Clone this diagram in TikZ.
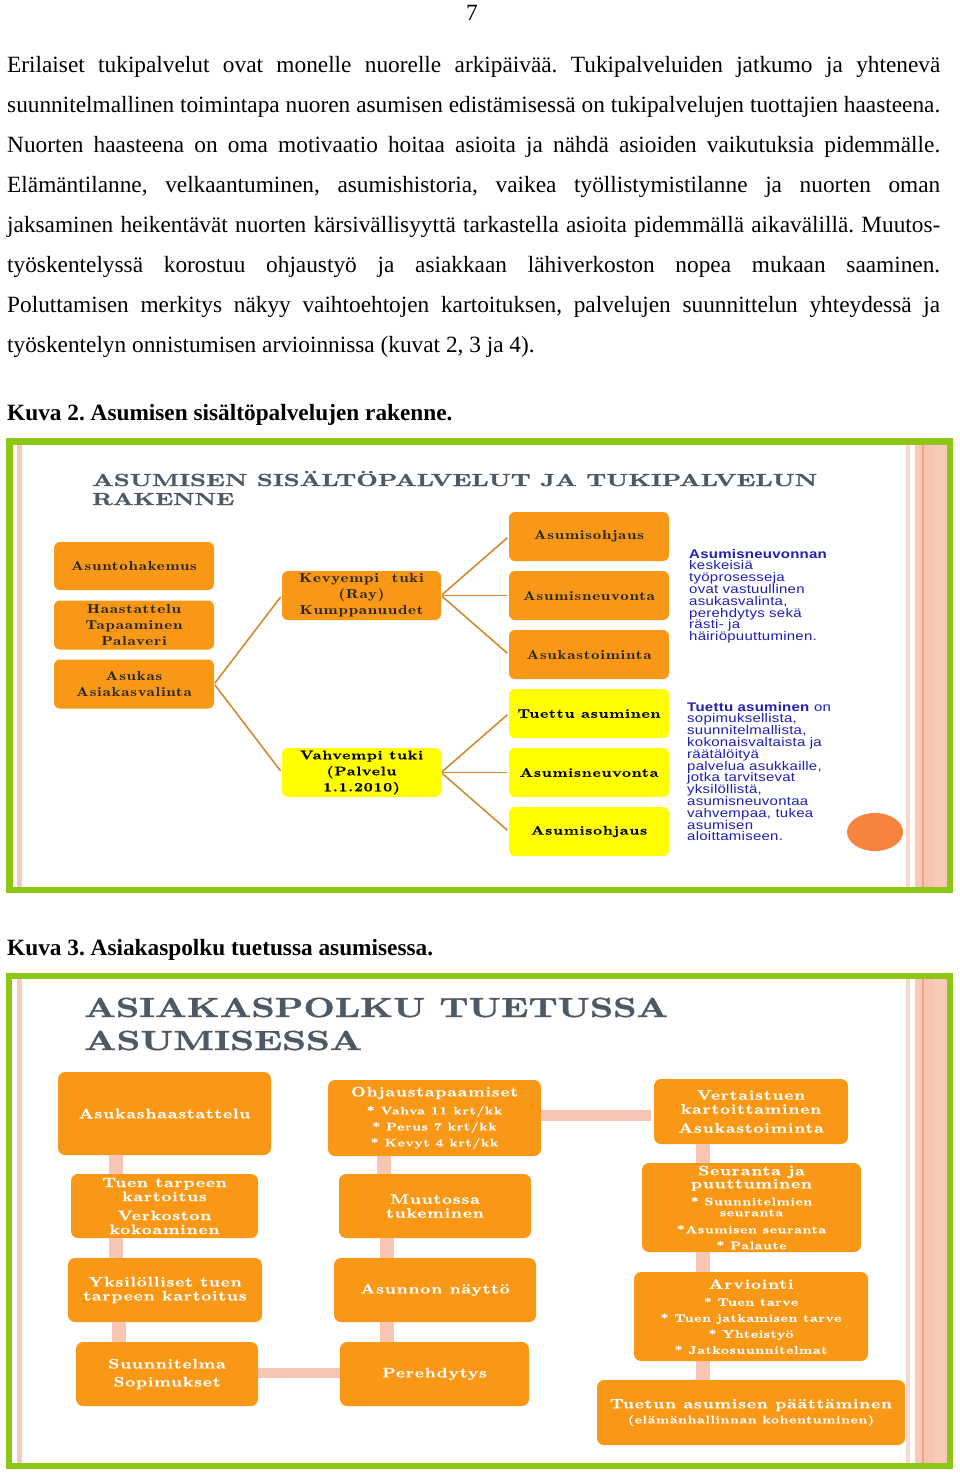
\documentclass[tikz,border=0pt]{standalone}
\usepackage{graphicx}
\usepackage{fontspec}
\setmainfont{Liberation Serif}
\frenchspacing
\newfontfamily\boxfont{lmromandemi10-regular.otf}[FakeStretch=1.3,LetterSpace=6]
\newfontfamily\boxbold{lmroman10-bold.otf}[FakeStretch=1.25,LetterSpace=6,FakeBold=0.4]
\newfontfamily\titlefont{lmroman10-bold.otf}[FakeBold=1]
\newfontfamily\bluefont{Liberation Sans}[FakeStretch=1.2,LetterSpace=2]
\newcommand\subsz{\fontsize{11}{14}\selectfont}
\definecolor{cframe}{RGB}{142,198,20}
\definecolor{cpink}{RGB}{248,202,186}
\definecolor{cpinklt}{RGB}{250,218,206}
\definecolor{cpinkdk}{RGB}{240,162,130}
\definecolor{corange}{RGB}{248,152,22}
\definecolor{cyellow}{RGB}{255,255,0}
\definecolor{cconn}{RGB}{212,138,48}
\definecolor{cpinkbar}{RGB}{247,198,178}
\definecolor{ctitle}{RGB}{80,88,100}
\definecolor{cblue}{RGB}{30,30,185}
\definecolor{ccirc}{RGB}{246,132,62}
\tikzset{
  bodyline/.style={anchor=base west, inner sep=0, font=\fontsize{23.3}{28}\selectfont},
  titletext/.style={anchor=base west, inner sep=0, text=ctitle},
  obox/.style={fill=corange, rounded corners=6pt, inner sep=0, minimum width=160pt, minimum height=49pt, align=center, text=black!85, font=\boxfont\fontsize{13}{16}\selectfont},
  ylbox/.style={obox, fill=cyellow, text=black, font=\boxbold\fontsize{12.5}{16}\selectfont},
  connline/.style={draw=cconn, line width=1.6pt, shorten >=2pt, shorten <=1pt},
  bluetxt/.style={anchor=base west, inner sep=0, text=cblue, font=\bluefont\fontsize{12.5}{12}\selectfont},
  wbox/.style={fill=corange, rounded corners=7pt, inner sep=0, align=center, text=white, font=\boxbold\fontsize{13.8}{14}\selectfont},
  vbar/.style={draw=cpinkbar, line width=14pt},
  hbar/.style={draw=cpinkbar, line width=10.5pt}
}
\begin{document}
\begin{tikzpicture}[x=1pt,y=-1pt]
\useasboundingbox (0,0) rectangle (960,1476);
\fill[white] (0,0) rectangle (960,1476);

% page number and body text
\node[anchor=base, inner sep=0, font=\fontsize{23.3}{28}\selectfont] (pg) at (472,20) {7};
\node[bodyline] (t1) at (7,72) {\hbox to 933pt{Erilaiset tukipalvelut ovat monelle nuorelle arkipäivää. Tukipalveluiden jatkumo ja yhtenevä}};
\node[bodyline] (t2) at (7,112) {\hbox to 933pt{suunnitelmallinen toimintapa nuoren asumisen edistämisessä on tukipalvelujen tuottajien haasteena.}};
\node[bodyline] (t3) at (7,152) {\hbox to 933pt{Nuorten haasteena on oma motivaatio hoitaa asioita ja nähdä asioiden vaikutuksia pidemmälle.}};
\node[bodyline] (t4) at (7,192) {\hbox to 933pt{Elämäntilanne, velkaantuminen, asumishistoria, vaikea työllistymistilanne ja nuorten oman}};
\node[bodyline] (t5) at (7,232) {\hbox to 933pt{jaksaminen heikentävät nuorten kärsivällisyyttä tarkastella asioita pidemmällä aikavälillä. Muutos-}};
\node[bodyline] (t6) at (7,272) {\hbox to 933pt{työskentelyssä korostuu ohjaustyö ja asiakkaan lähiverkoston nopea mukaan saaminen.}};
\node[bodyline] (t7) at (7,312) {\hbox to 933pt{Poluttamisen merkitys näkyy vaihtoehtojen kartoituksen, palvelujen suunnittelun yhteydessä ja}};
\node[bodyline] (t8) at (7,352) {työskentelyn onnistumisen arvioinnissa (kuvat 2, 3 ja 4).};

\node[bodyline, font=\fontsize{23.3}{28}\selectfont\bfseries] (cap2) at (7,420) {Kuva 2. Asumisen sisältöpalvelujen rakenne.};
\node[bodyline, font=\fontsize{23.3}{28}\selectfont\bfseries] (cap3) at (7,955) {Kuva 3. Asiakaspolku tuetussa asumisessa.};

% ===== Diagram 1 =====
\fill[cpink] (17,445) rectangle (22,887);
\fill[cpinklt] (906,445) rectangle (910,887);
\fill[cpink] (915,445) rectangle (947,887);
\fill[cpink!85!cpinkdk] (925,445) rectangle (934,887);
\draw[cpinkdk, line width=1.2pt] (923,445) -- (923,887);
\draw[cframe, line width=6.5pt] (9.5,441.5) rectangle (950,890);

\node[titletext, font=\titlefont\fontsize{17.5}{19}\selectfont] (ti1a) at (92,486) {\resizebox{725pt}{\height}{ASUMISEN SISÄLTÖPALVELUT JA TUKIPALVELUN}};
\node[titletext, font=\titlefont\fontsize{17.5}{19}\selectfont] (ti1b) at (92,505) {\resizebox{142pt}{\height}{RAKENNE}};

\node[obox, minimum height=48pt] (asunto) at (134,566) {Asuntohakemus};
\node[obox] (haast) at (134,625) {Haastattelu\\Tapaaminen\\Palaveri};
\node[obox] (asukas) at (134,684) {Asukas\\Asiakasvalinta};
\node[obox, minimum width=159pt] (kev) at (361.5,595.5) {Kevyempi\ \ tuki\\(Ray)\\Kumppanuudet};
\node[ylbox, minimum width=159pt] (vahv) at (361.5,772.5) {Vahvempi tuki\\(Palvelu\\1.1.2010)};
\node[obox] (aohj) at (589,536.5) {Asumisohjaus};
\node[obox] (aneuv) at (589,595.5) {Asumisneuvonta};
\node[obox] (akt) at (589,654.5) {Asukastoiminta};
\node[ylbox] (tuettu) at (589,713.5) {Tuettu asuminen};
\node[ylbox] (aneuv2) at (589,772.5) {Asumisneuvonta};
\node[ylbox] (aohj2) at (589,831.5) {Asumisohjaus};

\draw[connline] (asukas.east) -- (kev.west);
\draw[connline] (asukas.east) -- (vahv.west);
\draw[connline] (kev.east) -- (aohj.west);
\draw[connline] (kev.east) -- (aneuv.west);
\draw[connline] (kev.east) -- (akt.west);
\draw[connline] (vahv.east) -- (tuettu.west);
\draw[connline] (vahv.east) -- (aneuv2.west);
\draw[connline] (vahv.east) -- (aohj2.west);

\foreach \ln [count=\i from 0] in {{\textbf{Asumisneuvonnan}}, keskeisiä, työprosesseja, {ovat vastuullinen}, {asukasvalinta,}, {perehdytys sekä}, {rästi- ja}, {häiriöpuuttuminen.}}
  {\node[bluetxt] (ba\i) at (689,{558+11.8*\i}) {\ln};}
\foreach \ln [count=\i from 0] in {{\textbf{Tuettu asuminen} on}, {sopimuksellista,}, {suunnitelmallista,}, {kokonaisvaltaista ja}, räätälöityä, {palvelua asukkaille,}, {jotka tarvitsevat}, {yksilöllistä,}, asumisneuvontaa, {vahvempaa, tukea}, asumisen, {aloittamiseen.}}
  {\node[bluetxt] (bb\i) at (687,{711+11.8*\i}) {\ln};}

\fill[ccirc] (875,832) ellipse [x radius=28pt, y radius=19pt];

% ===== Diagram 2 =====
\fill[cpink] (17,979) rectangle (22,1463);
\fill[cpinklt] (906,979) rectangle (910,1463);
\fill[cpink] (915,979) rectangle (947,1463);
\fill[cpink!85!cpinkdk] (925,979) rectangle (934,1463);
\draw[cpinkdk, line width=1.2pt] (923,979) -- (923,1463);
\draw[cframe, line width=6pt] (9,976) rectangle (950,1466);

\node[titletext, font=\titlefont\fontsize{27.7}{30}\selectfont] (ti2a) at (84,1017) {\resizebox{584pt}{\height}{ASIAKASPOLKU TUETUSSA}};
\node[titletext, font=\titlefont\fontsize{27.7}{30}\selectfont] (ti2b) at (84,1050) {\resizebox{278pt}{\height}{ASUMISESSA}};

\node[wbox, minimum width=213pt, minimum height=83pt] (hs) at (164.5,1113.5) {Asukashaastattelu};
\node[wbox, minimum width=187pt, minimum height=64pt] (tt) at (164.5,1206) {Tuen tarpeen\\kartoitus\\[5pt]Verkoston\\kokoaminen};
\node[wbox, minimum width=194pt, minimum height=64pt] (yk) at (165,1290) {Yksilölliset tuen\\tarpeen kartoitus};
\node[wbox, minimum width=182pt, minimum height=64pt] (su) at (167,1374) {Suunnitelma\\[4pt]Sopimukset};

\node[wbox, minimum width=213pt, minimum height=76pt] (oh) at (434.5,1118) {Ohjaustapaamiset\\[4pt]{\subsz * Vahva 11 krt/kk}\\[2pt]{\subsz * Perus 7 krt/kk}\\[2pt]{\subsz * Kevyt 4 krt/kk}};
\node[wbox, minimum width=192pt, minimum height=64pt] (mu) at (435,1206) {Muutossa\\tukeminen};
\node[wbox, minimum width=202pt, minimum height=64pt] (an) at (435,1290) {Asunnon näyttö};
\node[wbox, minimum width=189pt, minimum height=64pt] (pe) at (434.5,1374) {Perehdytys};

\node[wbox, minimum width=194pt, minimum height=65pt] (ve) at (751,1111.5) {Vertaistuen\\kartoittaminen\\[5pt]Asukastoiminta};
\node[wbox, minimum width=219pt, minimum height=89pt] (se) at (751.5,1207.5) {Seuranta ja\\[-1pt]puuttuminen\\[3pt]{\subsz * Suunnitelmien}\\[-3pt]{\subsz seuranta}\\[3pt]{\subsz *Asumisen seuranta}\\[2pt]{\subsz * Palaute}};
\node[wbox, minimum width=234pt, minimum height=89pt] (ar) at (751,1316.5) {Arviointi\\[3pt]{\subsz * Tuen tarve}\\[2pt]{\subsz * Tuen jatkamisen tarve}\\[2pt]{\subsz * Yhteistyö}\\[2pt]{\subsz * Jatkosuunnitelmat}};
\node[wbox, minimum width=308pt, minimum height=65pt] (tu) at (751,1412.5) {Tuetun asumisen päättäminen\\[1pt]{\subsz (elämänhallinnan kohentuminen)}};

\coordinate (xa) at (116,0);
\coordinate (xb) at (118.5,0);
\coordinate (xc) at (384,0);
\coordinate (xd) at (386.5,0);
\coordinate (xe) at (703,0);
\coordinate (ya) at (0,1115.5);
\coordinate (yb) at (0,1373);

\draw[vbar] (hs.south -| xa) -- (tt.north -| xa);
\draw[vbar] (tt.south -| xa) -- (yk.north -| xa);
\draw[vbar] (yk.south -| xb) -- (su.north -| xb);
\draw[vbar] (oh.south -| xc) -- (mu.north -| xc);
\draw[vbar] (mu.south -| xd) -- (an.north -| xd);
\draw[vbar] (an.south -| xd) -- (pe.north -| xd);
\draw[vbar] (ve.south -| xe) -- (se.north -| xe);
\draw[vbar] (se.south -| xe) -- (ar.north -| xe);
\draw[vbar] (ar.south -| xe) -- (tu.north -| xe);
\draw[hbar, shorten >=3pt] (oh.east |- ya) -- (ve.west |- ya);
\draw[hbar] (su.east |- yb) -- (pe.west |- yb);
\end{tikzpicture}
\end{document}
